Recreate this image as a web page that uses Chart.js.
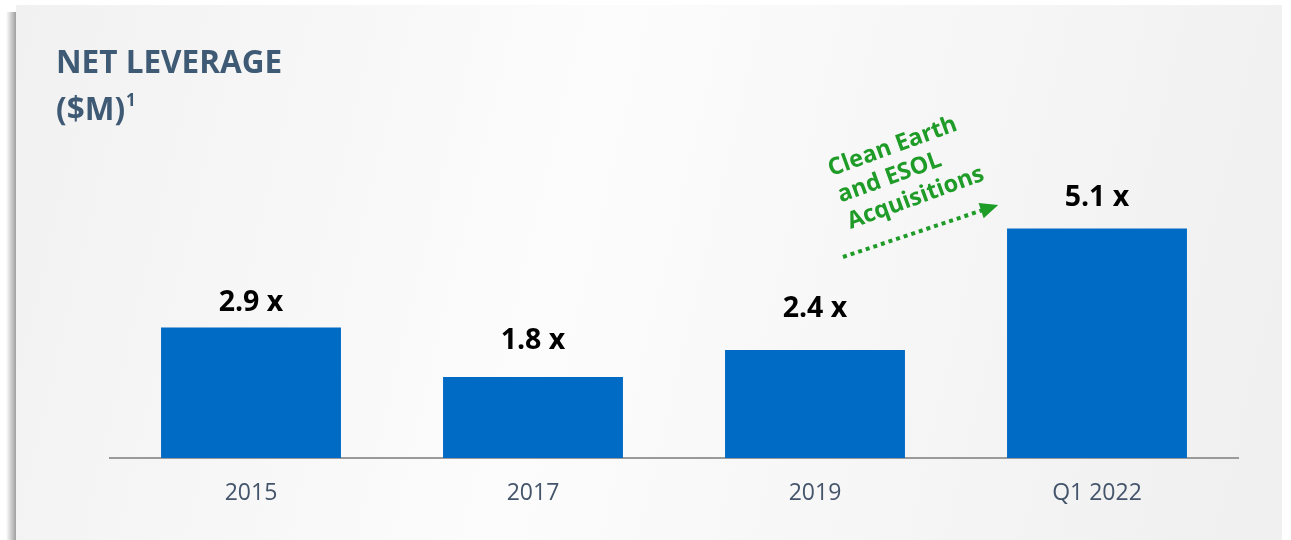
<!DOCTYPE html>
<html>
<head>
<meta charset="utf-8">
<script src="https://cdn.jsdelivr.net/npm/chart.js@4.4.1/dist/chart.umd.min.js"></script>
<style>
html,body{margin:0;padding:0;background:#fff;}
#wrap{width:1291px;height:540px;position:relative;}
</style>
</head>
<body>
<div id="wrap"><canvas id="c" width="1291" height="540"></canvas></div>
<script>
const categories = ["2015", "2017", "2019", "Q1 2022"];
const netLeverage = [2.9, 1.8, 2.4, 5.1];
const valueLabels = ["2.9 x", "1.8 x", "2.4 x", "5.1 x"];
const titleLines = ["NET LEVERAGE", "($M)"];
const annotationLines = ["Clean Earth", "and ESOL", "Acquisitions"];

const panelPlugin = {
  id: 'panel',
  beforeDraw(chart) {
    const ctx = chart.ctx;
    const W = chart.width, H = chart.height;
    ctx.save();
    ctx.fillStyle = '#ffffff';
    ctx.fillRect(0, 0, W, H);
    // left shadow
    const sg = ctx.createLinearGradient(6, 0, 16, 0);
    sg.addColorStop(0, 'rgba(150,150,150,0)');
    sg.addColorStop(1, 'rgba(150,150,150,0.9)');
    ctx.fillStyle = sg;
    ctx.fillRect(6, 12, 10, H);
    // panel
    const g = ctx.createLinearGradient(15, 0, 1282, 300);
    g.addColorStop(0, '#f1f1f1');
    g.addColorStop(0.45, '#fcfcfc');
    g.addColorStop(1, '#f0f0f0');
    ctx.fillStyle = g;
    ctx.fillRect(16, 5, 1266, H);
    // title
    ctx.fillStyle = '#3f5a74';
    ctx.font = 'bold 31.5px "Open Sans"';
    ctx.textAlign = 'left';
    ctx.textBaseline = 'middle';
    ctx.fillText(titleLines[0], 56, 64);
    ctx.fillText(titleLines[1], 56, 111);
    const w = ctx.measureText(titleLines[1]).width;
    ctx.font = 'bold 17px "Open Sans"';
    ctx.fillText('1', 56 + w + 1, 101);
    ctx.restore();
  },
  afterDraw(chart) {
    const ctx = chart.ctx;
    const meta = chart.getDatasetMeta(0);
    const gaps = chart.options.plugins.panel.labelGaps;
    ctx.save();
    ctx.fillStyle = '#000000';
    ctx.font = 'bold 28.5px "Open Sans"';
    ctx.textAlign = 'center';
    ctx.textBaseline = 'middle';
    meta.data.forEach((bar, i) => {
      ctx.fillText(valueLabels[i], bar.x, bar.y - gaps[i]);
    });
    // annotation
    const green = '#1f9b27';
    ctx.translate(829, 170);
    ctx.rotate(-20 * Math.PI / 180);
    ctx.fillStyle = green;
    ctx.font = 'bold 23.5px "Open Sans"';
    ctx.textAlign = 'left';
    annotationLines.forEach((t, i) => ctx.fillText(t, 0, i * 28));
    ctx.restore();
    // dotted arrow
    ctx.save();
    ctx.strokeStyle = green;
    ctx.fillStyle = green;
    ctx.lineWidth = 4;
    ctx.setLineDash([4, 4]);
    const x0 = 843, y0 = 257, x1 = 983, y1 = 210;
    ctx.beginPath();
    ctx.moveTo(x0, y0);
    ctx.lineTo(x1, y1);
    ctx.stroke();
    ctx.setLineDash([]);
    const ang = Math.atan2(y1 - y0, x1 - x0);
    ctx.translate(x1, y1);
    ctx.rotate(ang);
    ctx.beginPath();
    ctx.moveTo(16, 0);
    ctx.lineTo(-2, -8);
    ctx.lineTo(-2, 8);
    ctx.closePath();
    ctx.fill();
    ctx.restore();
  }
};

new Chart(document.getElementById('c'), {
  type: 'bar',
  data: {
    labels: categories,
    datasets: [{
      data: netLeverage,
      backgroundColor: '#006bc5',
      borderWidth: 0,
      categoryPercentage: 1,
      barPercentage: 0.638
    }]
  },
  options: {
    responsive: false,
    animation: false,
    layout: { padding: { left: 110, right: 53, top: 143, bottom: 0 } },
    plugins: {
      legend: { display: false },
      tooltip: { enabled: false },
      panel: { labelGaps: [25, 36, 41, 31] }
    },
    scales: {
      x: {
        afterFit(scale) { scale.height = 82; },
        grid: { display: false, drawTicks: false },
        border: { display: true, color: '#9a9a9a', width: 2 },
        ticks: { color: '#44546a', font: { family: 'Open Sans', size: 23 }, padding: 22 }
      },
      y: {
        display: false,
        min: 0,
        max: 7
      }
    }
  },
  plugins: [panelPlugin]
});
</script>
</body>
</html>
